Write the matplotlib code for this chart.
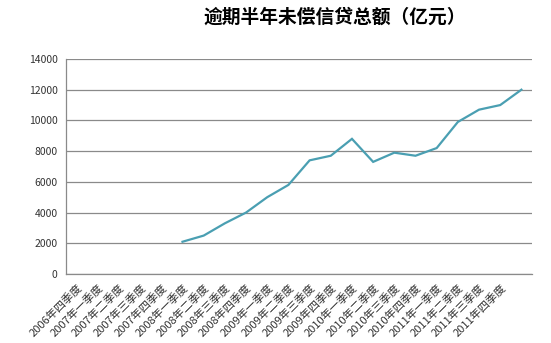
import matplotlib
matplotlib.use("Agg")
import matplotlib.pyplot as plt

plt.rcParams["font.family"] = ["Noto Sans CJK SC", "DejaVu Sans"]

# 22 category slots; the last one carries no label in the original chart
quarters = ["2006年四季度",
            "2007年一季度", "2007年二季度", "2007年三季度", "2007年四季度",
            "2008年一季度", "2008年二季度", "2008年三季度", "2008年四季度",
            "2009年一季度", "2009年二季度", "2009年三季度", "2009年四季度",
            "2010年一季度", "2010年二季度", "2010年三季度", "2010年四季度",
            "2011年一季度", "2011年二季度", "2011年三季度", "2011年四季度",
            ""]
first_idx = 5  # series starts at 2008年一季度
values = [2100, 2500, 3300, 4000, 5000, 5800, 7400, 7700, 8800,
          7300, 7900, 7700, 8200, 9900, 10700, 11000, 12000]
yticks = [0, 2000, 4000, 6000, 8000, 10000, 12000, 14000]

fig = plt.figure(figsize=(5.51, 3.43), dpi=100)
ax = fig.add_axes([0.1198, 0.2012, 0.8457, 0.6268])

x = list(range(first_idx, first_idx + len(values)))
ax.plot(x, values, color="#4A9FB2", lw=1.6, solid_joinstyle="miter")

ax.set_xlim(-0.5, len(quarters) - 0.5)
ax.set_ylim(0, 14000)
ax.set_yticks(yticks)
ax.set_yticklabels([str(v) for v in yticks], fontsize=7.5, color="#333333")
ax.set_xticks(range(len(quarters)))
ax.set_xticklabels(quarters, rotation=45, ha="right", rotation_mode="anchor",
                   fontsize=8, color="#333333")
ax.tick_params(axis="x", length=0, pad=6)
ax.tick_params(axis="y", length=0, pad=6)

ax.grid(axis="y", color="#8a8a8a", lw=0.9)
ax.set_axisbelow(True)
for s in ["top", "right"]:
    ax.spines[s].set_visible(False)
for s in ["left", "bottom"]:
    ax.spines[s].set_color("#8a8a8a")
    ax.spines[s].set_linewidth(0.9)

fig.text(0.608, 0.949, "逾期半年未偿信贷总额（亿元）", ha="center", va="center",
         fontsize=13.5, fontweight="bold")

fig.savefig("out.png", dpi=100)
